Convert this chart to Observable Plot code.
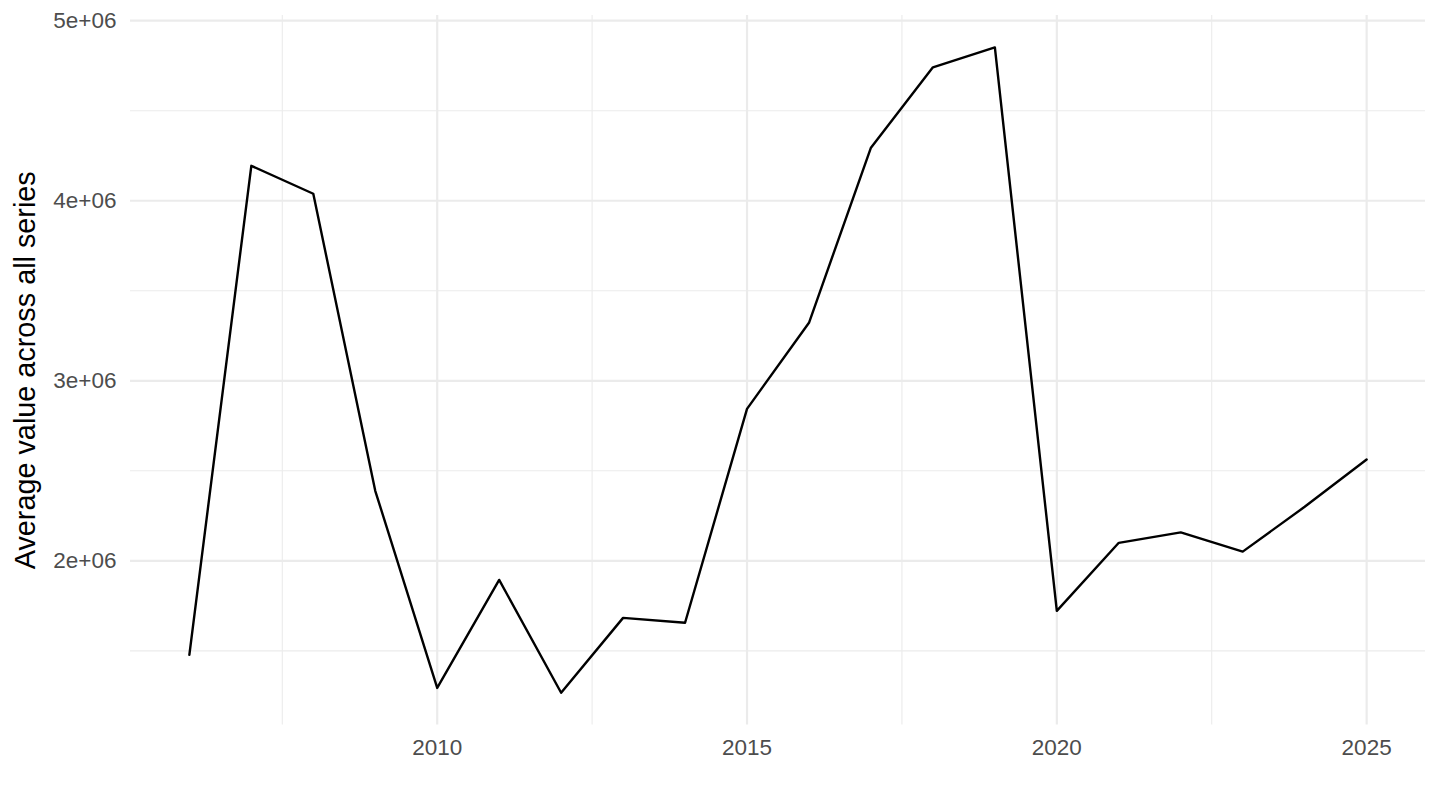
<!DOCTYPE html>
<html>
<head>
<meta charset="utf-8">
<script src="https://cdn.jsdelivr.net/npm/d3@7"></script>
<script src="https://cdn.jsdelivr.net/npm/@observablehq/plot@0.6"></script>
<style>
  body { margin: 0; background: #fff; }
  #chart svg { display: block; }
</style>
</head>
<body>
<div id="chart"></div>
<script>
const years = [2006, 2007, 2008, 2009, 2010, 2011, 2012, 2013, 2014, 2015,
               2016, 2017, 2018, 2019, 2020, 2021, 2022, 2023, 2024, 2025]
const values = [1478000, 4194000, 4039000, 2389000, 1294000, 1894000, 1267000, 1683000, 1656000, 2844000,
                3322000, 4295000, 4741000, 4852000, 1722000, 2100000, 2158000, 2051000, 2300000, 2563000]

const xMajor = [2010, 2015, 2020, 2025]
const xMinor = [2007.5, 2012.5, 2017.5, 2022.5]
const yMajor = [2e6, 3e6, 4e6, 5e6]
const yMinor = [1.5e6, 2.5e6, 3.5e6, 4.5e6]
const yTitle = 'Average value across all series'

const data = years.map((year, i) => ({year, value: values[i]}))

let chart = Plot.plot({
    width: 1440,
    height: 810,
    marginLeft: 130,
    marginRight: 15,
    marginTop: 15,
    marginBottom: 85.5,
    style: {
        fontFamily: '"Liberation Sans", Arial, sans-serif',
        background: '#ffffff',
    },
    x: { domain: [2005.05, 2025.95] },
    y: { domain: [1088000, 5029000] },
    marks: [
        Plot.gridX(xMinor, { stroke: '#EBEBEB', strokeOpacity: 1, strokeWidth: 1.1 }),
        Plot.gridY(yMinor, { stroke: '#EBEBEB', strokeOpacity: 1, strokeWidth: 1.1 }),
        Plot.gridX(xMajor, { stroke: '#EBEBEB', strokeOpacity: 1, strokeWidth: 2.2 }),
        Plot.gridY(yMajor, { stroke: '#EBEBEB', strokeOpacity: 1, strokeWidth: 2.2 }),
        Plot.axisX({
            ticks: xMajor,
            tickSize: 0,
            tickPadding: 14,
            tickFormat: d => String(d),
            fontSize: 22.5,
            color: '#4D4D4D',
            label: null,
        }),
        Plot.axisY({
            ticks: yMajor,
            tickSize: 0,
            tickPadding: 14,
            tickFormat: d => (d / 1e6) + 'e+06',
            fontSize: 22.5,
            color: '#4D4D4D',
            label: null,
        }),
        Plot.text([yTitle], {
            text: d => d,
            frameAnchor: 'left',
            rotate: -90,
            dx: -105,
            fontSize: 28.8,
            fill: '#000000',
            textAnchor: 'middle',
            lineAnchor: 'middle',
        }),
        Plot.line(data, {
            x: 'year',
            y: 'value',
            stroke: '#000000',
            strokeWidth: 2.4,
        }),
    ],
})

d3.select('#chart').append(() => chart)
</script>
</body>
</html>
